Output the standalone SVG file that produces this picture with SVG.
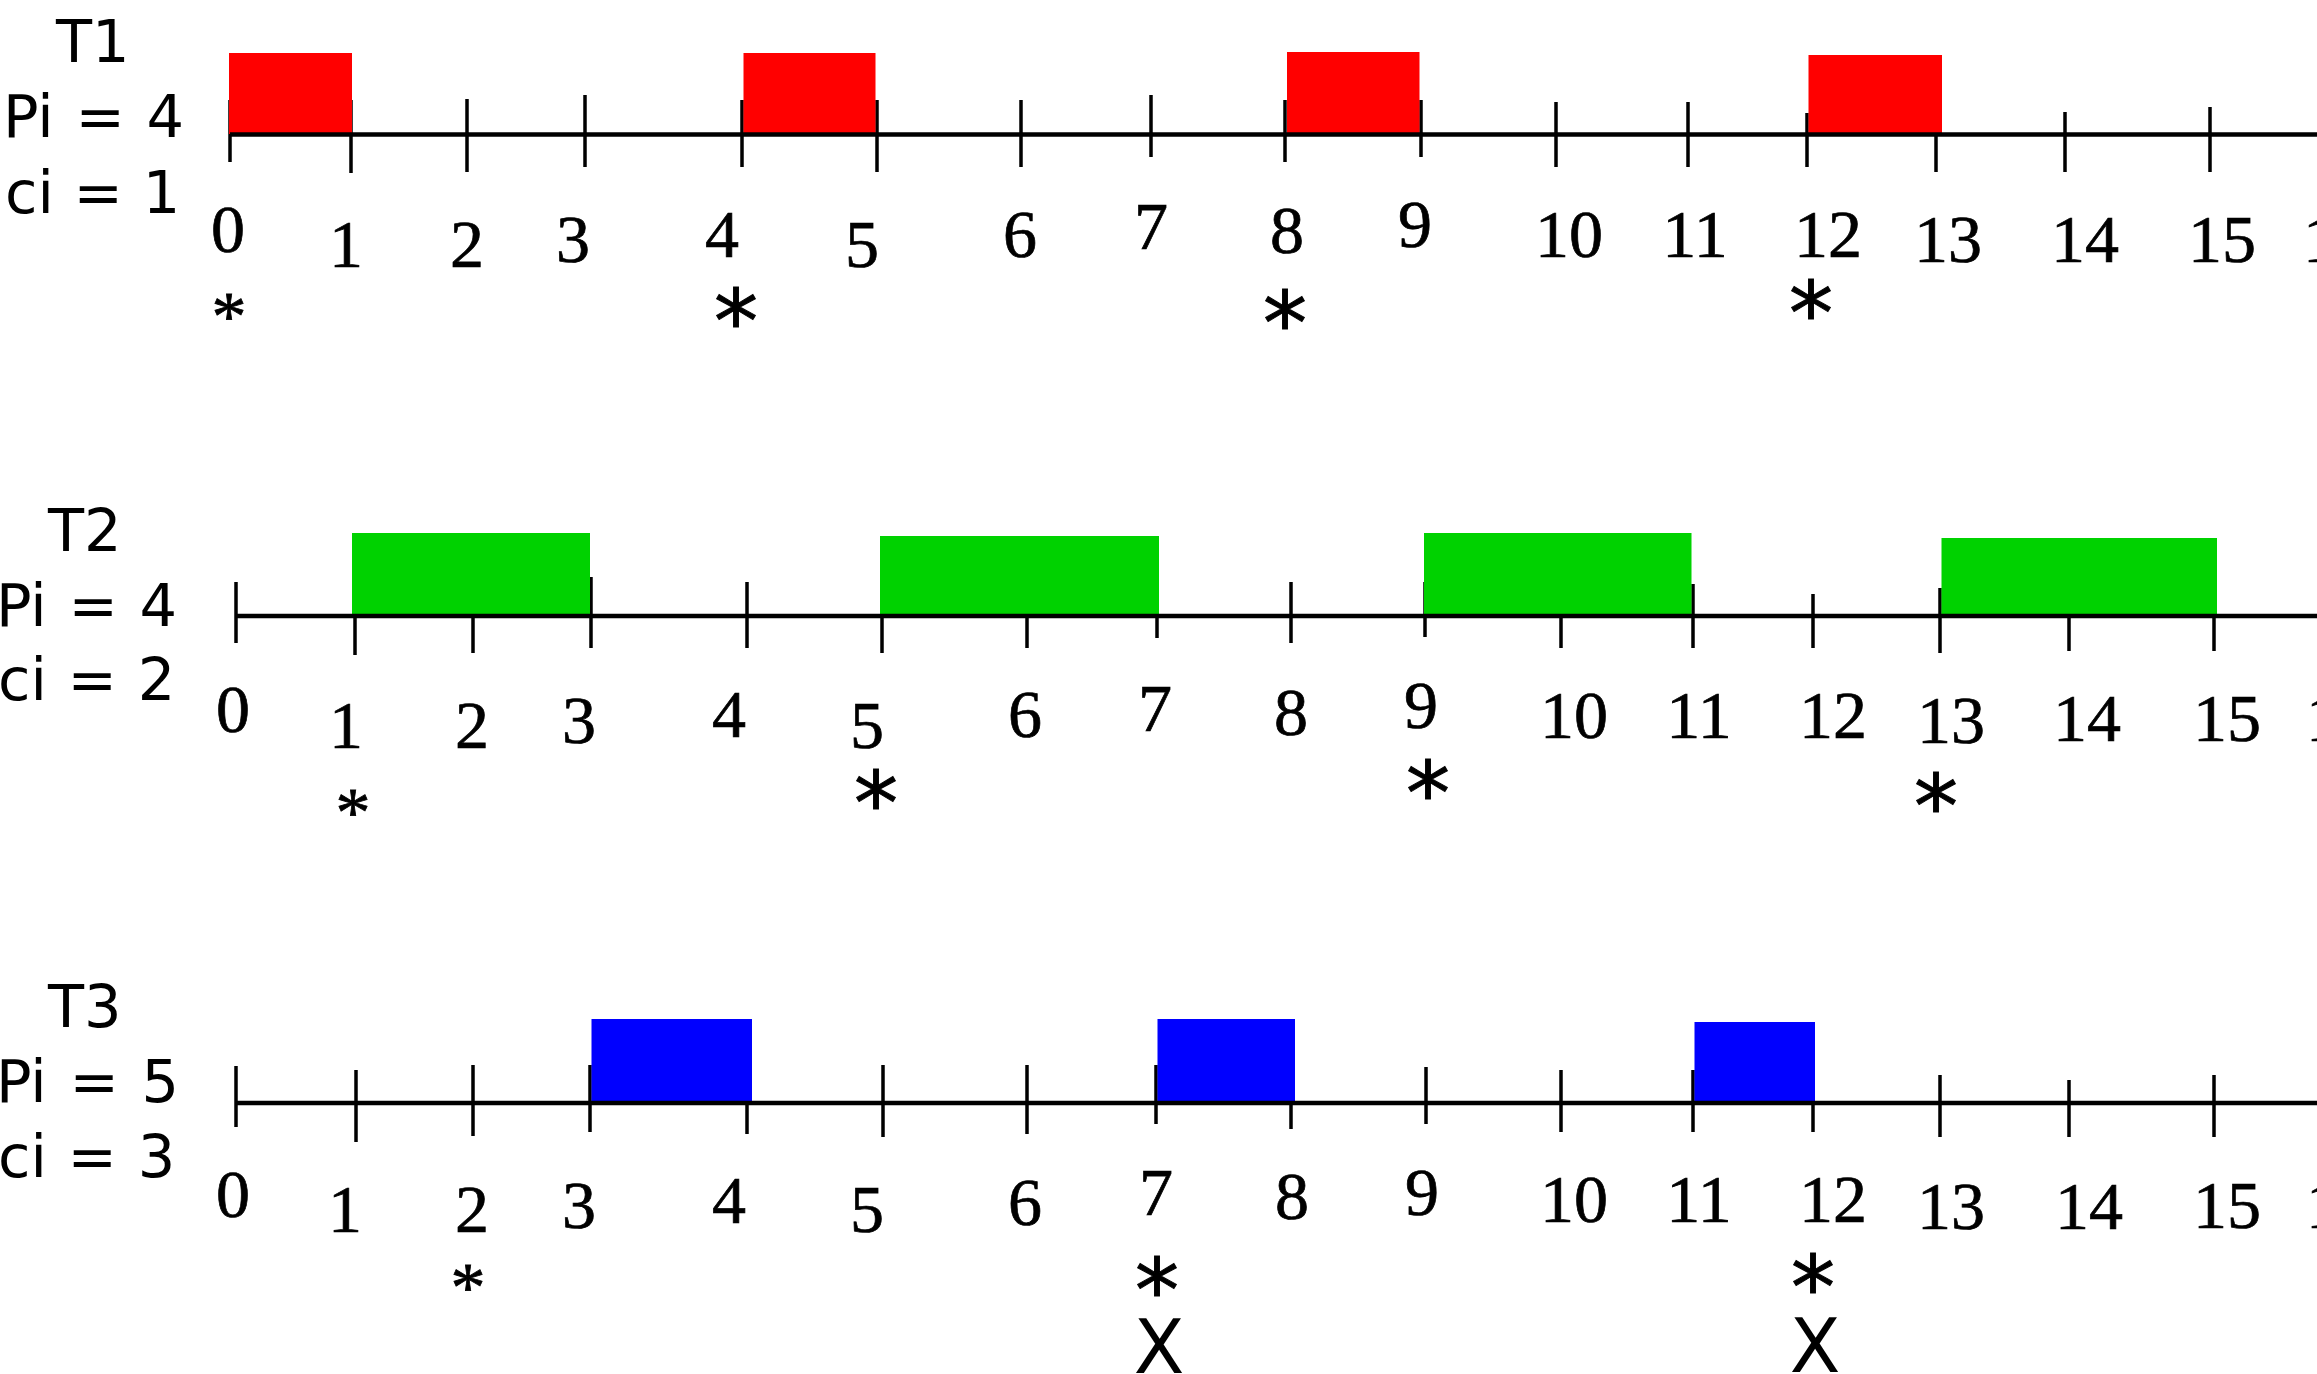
<svg xmlns="http://www.w3.org/2000/svg" width="2317" height="1374" viewBox="0 0 2317 1374">
<style>
.lbl{font-family:"DejaVu Sans",Verdana,sans-serif;font-size:59px;fill:#000}
.num{font-family:"Liberation Serif","Times New Roman",serif;font-size:68px;fill:#000;stroke:#000;stroke-width:0.7;text-anchor:middle}
.num16{font-family:"Liberation Serif","Times New Roman",serif;font-size:68px;fill:#000;stroke:#000;stroke-width:0.7}
.as{font-family:"DejaVu Sans",Verdana,sans-serif;font-size:88px;fill:#000;stroke:#000;stroke-width:1;text-anchor:middle}
.at{font-family:"Liberation Serif","Times New Roman",serif;font-size:70px;fill:#000;stroke:#000;stroke-width:0.8;text-anchor:middle}
.xm{font-family:"DejaVu Sans",Verdana,sans-serif;font-size:74px;fill:#000;text-anchor:middle}
.axis{stroke:#000;stroke-width:4.5;fill:none}
.tick{stroke:#000;stroke-width:3.5;fill:none}
.red{fill:#FF0000}
.grn{fill:#00D200}
.blu{fill:#0000FF}
</style>
<rect width="2317" height="1374" fill="#FFFFFF"/>

<g id="task-t1">
  <g id="t1-labels">
    <text class="lbl" x="56" y="62">T1</text>
    <text class="lbl" x="3" y="137" word-spacing="3">Pi = 4</text>
    <text class="lbl" x="5" y="213" word-spacing="1">ci = 1</text>
  </g>
  <g id="t1-ticks">
    <path class="tick" d="M230 100V162M351 100V173M467 99V172M585 95V167M742 100V167M877 100V172M1021 100V167M1151 95V157M1285 100V162M1421 100V157M1556 102V167M1688 102V167M1807 113V167M1936 110V172M2065 112V172M2210 107V172"/>
  </g>
  <g id="t1-jobs">
    <rect class="red" x="229" y="53" width="123" height="81"/>
    <rect class="red" x="743.5" y="53" width="132" height="81"/>
    <rect class="red" x="1287" y="52" width="132.5" height="82"/>
    <rect class="red" x="1808.5" y="55" width="133.5" height="79"/>
  </g>
  <path class="axis" d="M230 134.5H2317"/>
  <g id="t1-numbers">
    <text class="num" x="228" y="252">0</text>
    <text class="num" x="346" y="267">1</text>
    <text class="num" x="467" y="267">2</text>
    <text class="num" x="573" y="262">3</text>
    <text class="num" x="722" y="257">4</text>
    <text class="num" x="862" y="267">5</text>
    <text class="num" x="1020" y="257">6</text>
    <text class="num" x="1151" y="249">7</text>
    <text class="num" x="1287" y="253">8</text>
    <text class="num" x="1415" y="247">9</text>
    <text class="num" x="1569" y="257">10</text>
    <text class="num" x="1695" y="257">11</text>
    <text class="num" x="1828" y="257">12</text>
    <text class="num" x="1948" y="262">13</text>
    <text class="num" x="2085" y="262">14</text>
    <text class="num" x="2222" y="262">15</text>
    <text class="num16" x="2303" y="262">16</text>
  </g>
  <g id="t1-releases">
    <text class="at" x="229" y="340">*</text>
    <text class="as" x="736" y="352">*</text>
    <text class="as" x="1285" y="354">*</text>
    <text class="as" x="1811" y="344">*</text>
  </g>
</g>

<g id="task-t2">
  <g id="t2-labels">
    <text class="lbl" x="48" y="551">T2</text>
    <text class="lbl" x="-4" y="626" word-spacing="3">Pi = 4</text>
    <text class="lbl" x="-2" y="700" word-spacing="2">ci = 2</text>
  </g>
  <g id="t2-ticks">
    <path class="tick" d="M236 582V643M355 582V655M473 582V653M591 577V648M747 582V648M882 582V653M1027 582V648M1157 577V638M1291 582V643M1425 582V637M1561 582V648M1693 584V648M1813 594V648M1940 588V653M2069 582V651M2214 582V651"/>
  </g>
  <g id="t2-jobs">
    <rect class="grn" x="352" y="533" width="238" height="83"/>
    <rect class="grn" x="880" y="536" width="279" height="80"/>
    <rect class="grn" x="1424" y="533" width="267.5" height="83"/>
    <rect class="grn" x="1941.5" y="538" width="275.5" height="78"/>
  </g>
  <path class="axis" d="M236 616H2317"/>
  <g id="t2-numbers">
    <text class="num" x="233" y="732">0</text>
    <text class="num" x="346" y="748">1</text>
    <text class="num" x="472" y="748">2</text>
    <text class="num" x="579" y="743">3</text>
    <text class="num" x="729" y="737">4</text>
    <text class="num" x="867" y="748">5</text>
    <text class="num" x="1025" y="737">6</text>
    <text class="num" x="1155" y="731">7</text>
    <text class="num" x="1291" y="735">8</text>
    <text class="num" x="1421" y="728">9</text>
    <text class="num" x="1574" y="738">10</text>
    <text class="num" x="1699" y="738">11</text>
    <text class="num" x="1833" y="738">12</text>
    <text class="num" x="1951" y="743">13</text>
    <text class="num" x="2087" y="741">14</text>
    <text class="num" x="2227" y="741">15</text>
    <text class="num16" x="2306" y="741">16</text>
  </g>
  <g id="t2-releases">
    <text class="at" x="353" y="836">*</text>
    <text class="as" x="876" y="834">*</text>
    <text class="as" x="1428" y="824">*</text>
    <text class="as" x="1936" y="837">*</text>
  </g>
</g>

<g id="task-t3">
  <g id="t3-labels">
    <text class="lbl" x="48" y="1027">T3</text>
    <text class="lbl" x="-4" y="1102" word-spacing="4">Pi = 5</text>
    <text class="lbl" x="-2" y="1177" word-spacing="2">ci = 3</text>
  </g>
  <g id="t3-ticks">
    <path class="tick" d="M236 1066V1127M356 1070V1142M473 1065V1136M590 1065V1132M747 1065V1134M883 1065V1137M1027 1065V1134M1156 1065V1124M1291 1065V1129M1426 1067V1124M1561 1070V1132M1693 1070V1132M1813 1070V1132M1940 1075V1137M2069 1080V1137M2214 1075V1137"/>
  </g>
  <g id="t3-jobs">
    <rect class="blu" x="591.5" y="1019" width="160.5" height="84"/>
    <rect class="blu" x="1157.5" y="1019" width="137.5" height="84"/>
    <rect class="blu" x="1694.5" y="1022" width="120.5" height="81"/>
  </g>
  <path class="axis" d="M236 1103H2317"/>
  <g id="t3-numbers">
    <text class="num" x="233" y="1217">0</text>
    <text class="num" x="345" y="1232">1</text>
    <text class="num" x="472" y="1232">2</text>
    <text class="num" x="579" y="1228">3</text>
    <text class="num" x="729" y="1223">4</text>
    <text class="num" x="867" y="1232">5</text>
    <text class="num" x="1025" y="1225">6</text>
    <text class="num" x="1156" y="1215">7</text>
    <text class="num" x="1292" y="1219">8</text>
    <text class="num" x="1422" y="1215">9</text>
    <text class="num" x="1574" y="1222">10</text>
    <text class="num" x="1699" y="1222">11</text>
    <text class="num" x="1833" y="1222">12</text>
    <text class="num" x="1951" y="1229">13</text>
    <text class="num" x="2089" y="1229">14</text>
    <text class="num" x="2227" y="1228">15</text>
    <text class="num16" x="2306" y="1228">16</text>
  </g>
  <g id="t3-releases">
    <text class="at" x="468" y="1311">*</text>
    <text class="as" x="1157" y="1321">*</text>
    <text class="as" x="1813" y="1318">*</text>
  </g>
  <g id="t3-misses">
    <text class="xm" x="1159" y="1373">X</text>
    <text class="xm" x="1815" y="1372">X</text>
  </g>
</g>
</svg>
